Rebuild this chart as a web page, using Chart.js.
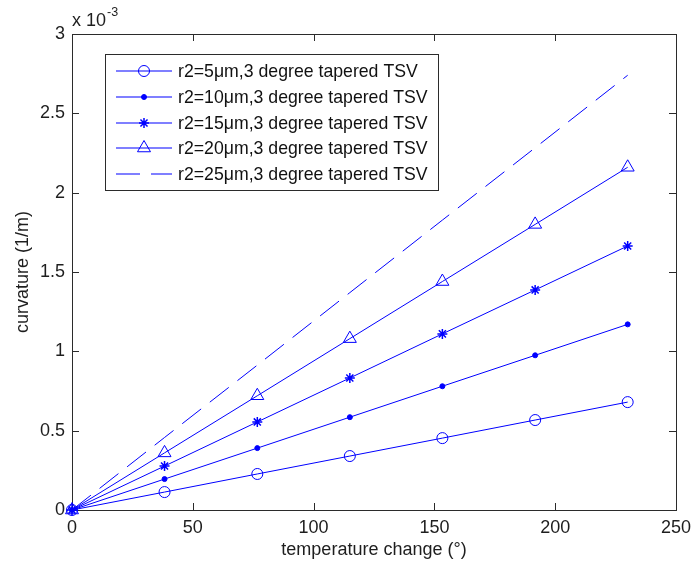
<!DOCTYPE html>
<html>
<head>
<meta charset="utf-8">
<script src="https://cdn.jsdelivr.net/npm/chart.js@4.4.1/dist/chart.umd.min.js"></script>
<style>
  html, body { margin: 0; padding: 0; background: #fff; }
  #wrap { width: 692px; height: 567px; }
</style>
</head>
<body>
<div id="wrap"><canvas id="curv" width="692" height="567"></canvas></div>
<script>
// temperature change (deg) vs curvature, curvature in units of 1e-3 1/m
const tempChange = [0, 38.3, 76.7, 115, 153.3, 191.7, 230];
const curvR5  = [0, 0.113, 0.227, 0.340, 0.453, 0.567, 0.680];
const curvR10 = [0, 0.195, 0.390, 0.585, 0.780, 0.975, 1.170];
const curvR15 = [0, 0.277, 0.555, 0.832, 1.110, 1.387, 1.664];
const curvR20 = [0, 0.360, 0.720, 1.080, 1.440, 1.800, 2.160];
const curvR25 = [0, 0.457, 0.913, 1.370, 1.827, 2.283, 2.740];
const seriesNames = [
  'r2=5μm,3 degree tapered TSV',
  'r2=10μm,3 degree tapered TSV',
  'r2=15μm,3 degree tapered TSV',
  'r2=20μm,3 degree tapered TSV',
  'r2=25μm,3 degree tapered TSV'
];
const xTickVals = [0, 50, 100, 150, 200, 250];
const yTickVals = [0, 0.5, 1, 1.5, 2, 2.5, 3];

const BLUE = '#0000ff';
const INK = '#1e1e1e';
const FONT = '"Liberation Sans", Arial, sans-serif';

function pts(ys) {
  return tempChange.map((x, i) => ({ x: x, y: ys[i] }));
}

function series(label, ys, style, radius, fill, extra) {
  return Object.assign({
    label: label,
    data: pts(ys),
    borderColor: BLUE,
    borderWidth: 1,
    pointStyle: style,
    pointRadius: radius,
    pointBorderColor: BLUE,
    pointBackgroundColor: fill,
    pointBorderWidth: 1,
    clip: false
  }, extra || {});
}

// axes box with inward ticks on all four sides, plus the exponent note
const matlabFrame = {
  id: 'matlabFrame',
  beforeDatasetsDraw(chart) {
    const { ctx, chartArea: a, scales } = chart;
    const tick = 7;
    ctx.save();
    ctx.strokeStyle = '#2b2b2b';
    ctx.lineWidth = 1;
    ctx.strokeRect(Math.round(a.left) + 0.5, Math.round(a.top) + 0.5,
                   Math.round(a.right - a.left), Math.round(a.bottom - a.top));
    ctx.beginPath();
    xTickVals.forEach(v => {
      const x = Math.round(scales.x.getPixelForValue(v)) + 0.5;
      ctx.moveTo(x, a.bottom); ctx.lineTo(x, a.bottom - tick);
      ctx.moveTo(x, a.top); ctx.lineTo(x, a.top + tick);
    });
    yTickVals.forEach(v => {
      const y = Math.round(scales.y.getPixelForValue(v)) + 0.5;
      ctx.moveTo(a.left, y); ctx.lineTo(a.left + tick, y);
      ctx.moveTo(a.right, y); ctx.lineTo(a.right - tick, y);
    });
    ctx.stroke();

    ctx.fillStyle = INK;
    ctx.textBaseline = 'alphabetic';
    ctx.font = '18px ' + FONT;
    ctx.fillText('x 10', a.left, a.top - 8);
    const w = ctx.measureText('x 10').width;
    ctx.font = '12.5px ' + FONT;
    ctx.fillText('-3', a.left + w + 1, a.top - 18);
    ctx.restore();
  }
};

// legend box drawn inside the plot, top-left
const boxLegend = {
  id: 'boxLegend',
  afterDatasetsDraw(chart) {
    const ctx = chart.ctx;
    const L = 105, T = 54, W = 333, H = 136;
    ctx.save();
    ctx.fillStyle = '#fff';
    ctx.fillRect(L, T, W, H);
    ctx.strokeStyle = '#2b2b2b';
    ctx.lineWidth = 1;
    ctx.strokeRect(L + 0.5, T + 0.5, W, H);
    chart.data.datasets.forEach((ds, i) => {
      const y = Math.round(T + 17 + i * 25.8);
      ctx.strokeStyle = BLUE;
      ctx.lineWidth = 1.2;
      ctx.setLineDash(ds.borderDash || []);
      ctx.beginPath();
      ctx.moveTo(116, y);
      ctx.lineTo(172, y);
      ctx.stroke();
      ctx.setLineDash([]);
      if (ds.pointRadius > 0) {
        ctx.strokeStyle = BLUE;
        ctx.fillStyle = ds.pointBackgroundColor;
        ctx.lineWidth = ds.pointBorderWidth;
        Chart.helpers.drawPoint(ctx, {
          pointStyle: ds.pointStyle, radius: ds.pointRadius,
          borderWidth: ds.pointBorderWidth, rotation: 0
        }, 144, y);
      }
      ctx.fillStyle = '#111';
      ctx.font = '17.7px ' + FONT;
      ctx.textBaseline = 'middle';
      ctx.fillText(ds.label, 178, y + 1);
    });
    ctx.restore();
  }
};

new Chart(document.getElementById('curv'), {
  type: 'line',
  data: {
    datasets: [
      series(seriesNames[0], curvR5, 'circle', 5.5, 'rgba(0,0,0,0)'),
      series(seriesNames[1], curvR10, 'circle', 2.5, BLUE),
      series(seriesNames[2], curvR15, 'star', 5, BLUE, { pointBorderWidth: 1.5 }),
      series(seriesNames[3], curvR20, 'triangle', 7.5, 'rgba(0,0,0,0)'),
      series(seriesNames[4], curvR25, 'circle', 0, BLUE, { borderDash: [24, 11] })
    ]
  },
  options: {
    responsive: false,
    animation: false,
    layout: { padding: { left: 0, top: 34, right: 0, bottom: 0 } },
    plugins: { legend: { display: false }, tooltip: { enabled: false } },
    elements: { line: { tension: 0 } },
    scales: {
      x: {
        type: 'linear', min: 0, max: 250,
        afterBuildTicks: s => { s.ticks = xTickVals.map(v => ({ value: v })); },
        afterFit: s => { s.height = 57; s.paddingLeft = 0; s.paddingRight = 16; },
        grid: { display: false, drawTicks: false },
        border: { display: false },
        ticks: { color: INK, font: { family: FONT, size: 18 }, padding: 7, maxRotation: 0,
                 callback: v => String(v) },
        title: { display: true, text: 'temperature change (°)', color: INK,
                 font: { family: FONT, size: 18 }, padding: { top: 0, bottom: 6 } }
      },
      y: {
        type: 'linear', min: 0, max: 3,
        afterBuildTicks: s => { s.ticks = yTickVals.map(v => ({ value: v })); },
        afterFit: s => { s.width = 72; },
        grid: { display: false, drawTicks: false },
        border: { display: false },
        ticks: { color: INK, font: { family: FONT, size: 18 }, padding: 7,
                 callback: v => String(v) },
        title: { display: true, text: 'curvature (1/m)', color: INK,
                 font: { family: FONT, size: 18 }, padding: { top: 12, bottom: 0 } }
      }
    }
  },
  plugins: [matlabFrame, boxLegend]
});
</script>
</body>
</html>
